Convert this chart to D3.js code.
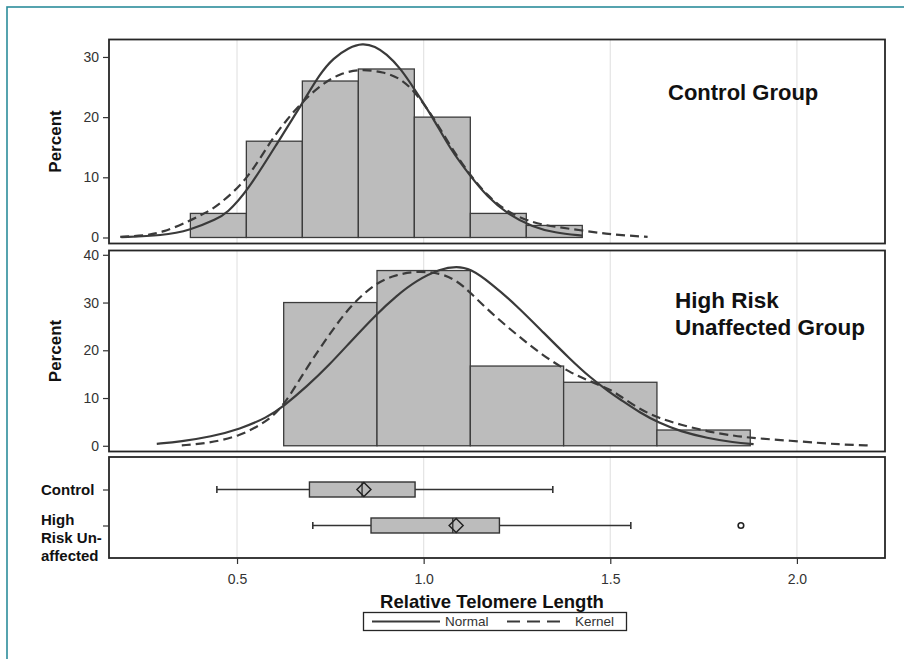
<!DOCTYPE html>
<html><head><meta charset="utf-8">
<script src="https://cdn.jsdelivr.net/npm/d3@7"></script>
<style>
html,body{margin:0;padding:0;background:#fff;}
svg{display:block;font-family:"Liberation Sans",Arial,sans-serif;}
</style></head>
<body>
<svg id="chart" width="904" height="659"></svg>
<script>
// ---------- data ----------
const xTicks = [0.5, 1.0, 1.5, 2.0];
const yTicksTop = [0, 10, 20, 30];
const yTicksMid = [0, 10, 20, 30, 40];

const controlBinStarts = [0.375, 0.525, 0.675, 0.825, 0.975, 1.125, 1.275];
const controlBinWidth = 0.15;
const controlPercent = [4, 16, 26, 28, 20, 4, 2];

const highRiskBinStarts = [0.625, 0.875, 1.125, 1.375, 1.625];
const highRiskBinWidth = 0.25;
const highRiskPercent = [30, 36.7, 16.7, 13.3, 3.3];

const controlNormal = [[0.19,0.05],[0.3,0.3],[0.375,1.2],[0.447,3.1],[0.472,4],[0.527,7.6],[0.611,16],[0.675,22.3],[0.723,27.3],[0.758,29.8],[0.8,31.6],[0.836,32.3],[0.87,31.8],[0.9,30.5],[0.937,28.2],[0.977,24.5],[1.026,19.8],[1.07,14.8],[1.125,10.2],[1.17,6.8],[1.224,3.9],[1.294,1.7],[1.35,0.8],[1.425,0.3]];
const controlKernel = [[0.187,0.1],[0.25,0.3],[0.3,0.8],[0.375,2.8],[0.418,4.2],[0.447,5.2],[0.527,9.5],[0.589,16],[0.636,19.8],[0.675,22.5],[0.723,25.3],[0.776,27.3],[0.834,28],[0.892,27.5],[0.937,26.5],[0.977,24.2],[1.026,20],[1.07,15.3],[1.125,10.3],[1.17,7],[1.224,4.2],[1.294,2.4],[1.35,1.8],[1.42,1.2],[1.49,0.6],[1.55,0.3],[1.6,0.1]];

const highRiskNormal = [[0.285,0.4],[0.35,0.9],[0.43,1.9],[0.508,3.5],[0.58,5.9],[0.625,8.3],[0.687,12.4],[0.748,17],[0.803,21.7],[0.874,27.6],[0.927,31.4],[0.98,34.6],[1.045,37.1],[1.089,37.6],[1.125,37.1],[1.178,34.2],[1.25,29.3],[1.321,23.7],[1.393,18.1],[1.446,14.3],[1.5,11.1],[1.527,9.7],[1.58,6.9],[1.63,4.8],[1.688,3.0],[1.76,1.6],[1.83,0.7],[1.884,0.35]];
const highRiskKernel = [[0.352,0.1],[0.42,0.5],[0.508,2],[0.58,5.1],[0.625,8.3],[0.687,16.4],[0.748,23.4],[0.803,29.3],[0.874,34.3],[0.927,35.8],[0.98,36.6],[1.045,36.2],[1.089,34.6],[1.125,32.1],[1.178,28],[1.25,23.2],[1.321,18.8],[1.393,15.3],[1.446,13.5],[1.5,11.8],[1.527,10.4],[1.58,7.6],[1.63,5.8],[1.688,4.4],[1.76,3.0],[1.83,2.1],[1.884,1.6],[2.01,0.9],[2.117,0.25],[2.197,0.05]];

const boxCategories = ["Control", "High Risk Unaffected"];
const boxLabelLines = [["Control"], ["High", "Risk Un-", "affected"]];
const boxMin    = [0.446, 0.703];
const boxQ1     = [0.694, 0.859];
const boxMedian = [0.835, 1.078];
const boxMean   = [0.840, 1.087];
const boxQ3     = [0.977, 1.203];
const boxMax    = [1.346, 1.555];
const boxOutliers = [[], [1.85]];

const legendLabels = ["Normal", "Kernel"];

// ---------- layout ----------
const svg = d3.select("#chart");
const L = 109, R = 885;
const pTop = {y0: 39.5, y1: 243.5};
const pMid = {y0: 250.5, y1: 451.5};
const pBox = {y0: 457, y1: 558};
const dark = "#262626";
const barFill = "#bcbcbc";
const curveColor = "#3a3a3a";

// teal frame
svg.append("rect").attr("x", 7).attr("y", 7).attr("width", 1000).attr("height", 1000)
  .attr("fill", "none").attr("stroke", "#2c8d9b").attr("stroke-width", 1.6);

const x = d3.scaleLinear().domain([0.157, 2.236]).range([L, R]);
const yTop = d3.scaleLinear().domain([-1.0, 32.9]).range([pTop.y1, pTop.y0]);
const yMid = d3.scaleLinear().domain([-1.2, 40.9]).range([pMid.y1, pMid.y0]);
const yBox = d3.scalePoint().domain(boxCategories).range([pBox.y0, pBox.y1]).padding(0.903);

function grid(p) {
  svg.append("g").selectAll("line").data(xTicks).join("line")
    .attr("x1", d => x(d)).attr("x2", d => x(d))
    .attr("y1", p.y0).attr("y2", p.y1)
    .attr("stroke", "#e4e4e4").attr("stroke-width", 1.2);
}
[pTop, pMid, pBox].forEach(grid);

function styleAxis(g) {
  g.select(".domain").remove();
  g.selectAll(".tick line").attr("stroke", "#333").attr("stroke-width", 1.2);
  g.selectAll(".tick text").attr("fill", "#333").attr("font-size", 14)
    .attr("font-family", "'Liberation Sans',Arial,sans-serif");
}

function histogram(starts, width, vals, y) {
  svg.append("g").selectAll("rect").data(vals).join("rect")
    .attr("x", (d, i) => x(starts[i]))
    .attr("width", (d, i) => x(starts[i] + width) - x(starts[i]))
    .attr("y", d => y(d))
    .attr("height", d => y(0) - y(d))
    .attr("fill", barFill).attr("stroke", "#3c3c3c").attr("stroke-width", 1.3);
}
function curve(pts, y, dashed) {
  const line = d3.line().x(d => x(d[0])).y(d => y(d[1])).curve(d3.curveBasis);
  svg.append("path").datum(pts).attr("d", line)
    .attr("fill", "none").attr("stroke", curveColor).attr("stroke-width", 2.2)
    .attr("stroke-dasharray", dashed ? "9,5" : null);
}

// top panel
histogram(controlBinStarts, controlBinWidth, controlPercent, yTop);
curve(controlKernel, yTop, true);
curve(controlNormal, yTop, false);
// middle panel
histogram(highRiskBinStarts, highRiskBinWidth, highRiskPercent, yMid);
curve(highRiskKernel, yMid, true);
curve(highRiskNormal, yMid, false);

// box plots
const bh = 7.5;
const bg = svg.append("g");
boxCategories.forEach((c, i) => {
  const cy = yBox(c);
  bg.append("line").attr("x1", x(boxMin[i])).attr("x2", x(boxQ1[i])).attr("y1", cy).attr("y2", cy)
    .attr("stroke", "#333").attr("stroke-width", 1.5);
  bg.append("line").attr("x1", x(boxQ3[i])).attr("x2", x(boxMax[i])).attr("y1", cy).attr("y2", cy)
    .attr("stroke", "#333").attr("stroke-width", 1.5);
  [boxMin[i], boxMax[i]].forEach(v => {
    bg.append("line").attr("x1", x(v)).attr("x2", x(v)).attr("y1", cy - 3.5).attr("y2", cy + 3.5)
      .attr("stroke", "#333").attr("stroke-width", 1.6);
  });
  bg.append("rect").attr("x", x(boxQ1[i])).attr("width", x(boxQ3[i]) - x(boxQ1[i]))
    .attr("y", cy - bh).attr("height", 2 * bh)
    .attr("fill", barFill).attr("stroke", "#333").attr("stroke-width", 1.4);
  bg.append("line").attr("x1", x(boxMedian[i])).attr("x2", x(boxMedian[i]))
    .attr("y1", cy - bh).attr("y2", cy + bh).attr("stroke", "#333").attr("stroke-width", 1.4);
  const mx = x(boxMean[i]);
  bg.append("path").attr("d", `M${mx - 7},${cy}L${mx},${cy - 7}L${mx + 7},${cy}L${mx},${cy + 7}Z`)
    .attr("fill", "none").attr("stroke", "#222").attr("stroke-width", 1.5);
  boxOutliers[i].forEach(v => {
    bg.append("circle").attr("cx", x(v)).attr("cy", cy).attr("r", 2.8)
      .attr("fill", "#fff").attr("stroke", "#222").attr("stroke-width", 1.6);
  });
});

// panel borders
[pTop, pMid, pBox].forEach(p => {
  svg.append("rect").attr("x", L).attr("y", p.y0).attr("width", R - L).attr("height", p.y1 - p.y0)
    .attr("fill", "none").attr("stroke", dark).attr("stroke-width", 1.8);
});

// axes
svg.append("g").attr("transform", `translate(${L},0)`)
  .call(d3.axisLeft(yTop).tickValues(yTicksTop).tickSize(6).tickPadding(4)).call(styleAxis);
svg.append("g").attr("transform", `translate(${L},0)`)
  .call(d3.axisLeft(yMid).tickValues(yTicksMid).tickSize(6).tickPadding(4)).call(styleAxis);
svg.append("g").attr("transform", `translate(0,${pBox.y1})`)
  .call(d3.axisBottom(x).tickValues(xTicks).tickFormat(d3.format(".1f")).tickSize(6).tickPadding(10))
  .call(styleAxis);
const catAxis = svg.append("g").attr("transform", `translate(${L},0)`)
  .call(d3.axisLeft(yBox).tickSize(6).tickFormat(""));
catAxis.select(".domain").remove();
catAxis.selectAll(".tick line").attr("stroke", "#333").attr("stroke-width", 1.2);

// category labels
boxCategories.forEach((c, i) => {
  const lines = boxLabelLines[i];
  const y0 = lines.length === 1 ? yBox(c) : yBox(c) - 6;
  const t = svg.append("text").attr("x", 41).attr("font-size", 15).attr("font-weight", "bold")
    .attr("fill", "#111");
  lines.forEach((ln, k) => {
    t.append("tspan").attr("x", 41).attr("y", y0 + k * 18).attr("dy", "0.35em").text(ln);
  });
});

// y titles
[pTop, pMid].forEach(p => {
  svg.append("text").attr("transform", `translate(61,${(p.y0 + p.y1) / 2}) rotate(-90)`)
    .attr("text-anchor", "middle").attr("font-size", 17).attr("font-weight", "bold")
    .attr("fill", "#111").text("Percent");
});

// panel annotations
svg.append("text").attr("x", 668).attr("y", 100).attr("font-size", 22).attr("font-weight", "bold")
  .attr("fill", "#111").text("Control Group");
svg.append("text").attr("x", 675).attr("y", 308).attr("font-size", 22.5).attr("font-weight", "bold")
  .attr("fill", "#111").text("High Risk");
svg.append("text").attr("x", 675).attr("y", 335).attr("font-size", 22.5).attr("font-weight", "bold")
  .attr("fill", "#111").text("Unaffected Group");

// x title
svg.append("text").attr("x", 492).attr("y", 608).attr("text-anchor", "middle")
  .attr("font-size", 18.5).attr("font-weight", "bold").attr("fill", "#111")
  .text("Relative Telomere Length");

// legend
const lg = svg.append("g");
lg.append("rect").attr("x", 363.5).attr("y", 612.5).attr("width", 263).attr("height", 18)
  .attr("fill", "#fff").attr("stroke", dark).attr("stroke-width", 1.3);
lg.append("line").attr("x1", 372).attr("x2", 440).attr("y1", 621.5).attr("y2", 621.5)
  .attr("stroke", curveColor).attr("stroke-width", 2);
lg.append("text").attr("x", 445).attr("y", 621.5).attr("dy", "0.35em").attr("font-size", 13.5)
  .attr("fill", "#333").text(legendLabels[0]);
lg.append("line").attr("x1", 507).attr("x2", 560).attr("y1", 621.5).attr("y2", 621.5)
  .attr("stroke", curveColor).attr("stroke-width", 2).attr("stroke-dasharray", "13,7");
lg.append("text").attr("x", 575).attr("y", 621.5).attr("dy", "0.35em").attr("font-size", 13.5)
  .attr("fill", "#333").text(legendLabels[1]);
</script>
</body></html>
